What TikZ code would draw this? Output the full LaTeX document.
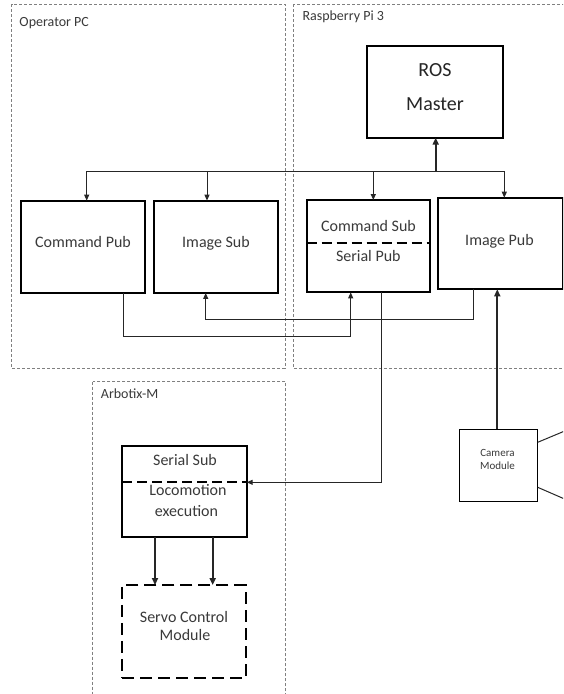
\documentclass[tikz,border=0pt]{standalone}
\usepackage{fontspec}
\setmainfont{Carlito}
\usetikzlibrary{arrows.meta}
\definecolor{txtgray}{HTML}{3A3A3A}
\definecolor{framegray}{HTML}{808080}
\tikzset{
  box/.style={draw=black, line width=2pt, rectangle, inner sep=0pt, outer sep=0pt},
  dbox/.style={box, dash pattern=on 12pt off 6pt},
  camerabox/.style={draw=black, line width=1pt, rectangle, inner sep=0pt, outer sep=0pt},
  group/.style={draw=framegray, line width=1pt, dash pattern=on 3pt off 2pt},
  grouplabel/.style={anchor=base west, text=txtgray, font=\fontsize{14}{16}\selectfont, inner sep=0pt},
  txt/.style={anchor=base, text=txtgray, font=\fontsize{16}{19}\selectfont, inner sep=0pt},
  bigtxt/.style={anchor=base, text=black!85, font=\fontsize{20}{24}\selectfont, inner sep=0pt},
  smalltxt/.style={anchor=base, text=txtgray, font=\fontsize{11}{13}\selectfont, inner sep=0pt},
  conn/.style={draw=black!85, line width=1pt, -{Triangle[length=6pt,width=5pt]}},
  thickconn/.style={draw=black!85, line width=2pt, -{Triangle[length=7pt,width=6pt]}},
  plainline/.style={draw=black!85, line width=1pt},
  divider/.style={draw=black, line width=2pt, dash pattern=on 10pt off 5pt},
}
\begin{document}
\begin{tikzpicture}[x=1pt,y=-1pt]
\clip (0,0) rectangle (563,694);
\fill[white] (0,0) rectangle (563,694);

% groups
\draw[group] (11.7,4) rectangle (285,368.3);
\draw[group] (293.7,4) rectangle (575,368.3);
\draw[group] (92.7,381.7) rectangle (285.7,710);
\node[grouplabel] (lblpc) at (19.3,26.7) {Operator PC};
\node[grouplabel] (lblpi) at (302.3,20) {Raspberry Pi 3};
\node[grouplabel] (lblarb) at (100.7,398.3) {Arbotix-M};

% boxes
\node[box, minimum width=136.6pt, minimum height=92pt] (ros) at (435,91.7) {};
\node[bigtxt] (rosT1) at (435,76) {ROS};
\node[bigtxt] (rosT2) at (435,110) {Master};

\node[box, minimum width=124pt, minimum height=92.3pt] (cmdpub) at (83,246.8) {};
\node[txt] (cmdpubT) at (83,247.3) {Command Pub};

\node[box, minimum width=124pt, minimum height=92.3pt] (imgsub) at (216,246.8) {};
\node[txt] (imgsubT) at (216,247.3) {Image Sub};

\node[box, minimum width=123.3pt, minimum height=92.3pt] (cmdsub) at (368.3,246.2) {};
\node[txt] (cmdsubT) at (368.5,231.7) {Command Sub};
\node[txt] (serpubT) at (368.3,261) {Serial Pub};
\draw[divider] ([yshift=2.9pt]cmdsub.west) -- ([yshift=2.9pt]cmdsub.east);

\node[box, minimum width=125pt, minimum height=91.6pt] (imgpub) at (500.2,243.5) {};
\node[txt] (imgpubT) at (499.5,245) {Image Pub};

\node[box, minimum width=124.4pt, minimum height=91pt] (sersub) at (184.5,491.2) {};
\node[txt] (sersubT) at (185,465) {Serial Sub};
\node[txt] (locoT1) at (188,495) {Locomotion};
\node[txt] (locoT2) at (186.5,516.7) {execution};
\draw[divider] ([yshift=8.9pt]sersub.west) -- ([yshift=8.9pt]sersub.east);

\node[dbox, minimum width=123.4pt, minimum height=93.3pt] (servo) at (184,631.7) {};
\node[txt] (servoT1) at (184,622.7) {Servo Control};
\node[txt] (servoT2) at (185,640.7) {Module};

\node[camerabox, minimum width=78.4pt, minimum height=71.7pt] (camera) at (498.5,465.2) {};
\node[smalltxt] (camT1) at (497.5,456) {Camera};
\node[smalltxt] (camT2) at (497.5,469.3) {Module};

% bus from ROS master
\coordinate (bus) at (435.7,171);
\draw[plainline] ([xshift=3.7pt]cmdpub.north |- bus) -- ([xshift=4.1pt]imgpub.north |- bus);
\draw[thickconn] (bus) -- (bus |- ros.south);
\draw[conn] ([xshift=3.7pt]cmdpub.north |- bus) -- ([xshift=3.7pt]cmdpub.north);
\draw[conn] ([xshift=-9pt]imgsub.north |- bus) -- ([xshift=-9pt]imgsub.north);
\draw[conn] ([xshift=5pt]cmdsub.north |- bus) -- ([xshift=5pt]cmdsub.north);
\draw[conn] ([xshift=4.1pt]imgpub.north |- bus) -- ([xshift=4.1pt]imgpub.north);

% operator <-> pi links
\draw[conn] ([xshift=40.3pt]cmdpub.south) -- ++(0,43.7) -| ([xshift=-17.6pt]cmdsub.south);
\draw[conn] ([xshift=-26.9pt]imgpub.south) -- ++(0,30) -| ([xshift=-10.3pt]imgsub.south);

% pi -> arbotix
\draw[conn] ([xshift=12.7pt]cmdsub.south) |- ([yshift=8.9pt]sersub.east);

% locomotion -> servo
\draw[thickconn] ([xshift=-29.5pt]sersub.south) -- ([xshift=-29.5pt]sersub.south |- servo.north);
\draw[thickconn] ([xshift=28.2pt]sersub.south) -- ([xshift=28.2pt]sersub.south |- servo.north);

% camera -> image pub
\draw[thickconn] ([xshift=-1.2pt]camera.north) -- ([xshift=-1.2pt]camera.north |- imgpub.south);

% camera lens lines
\coordinate (lensA) at (575,426.7);
\coordinate (lensB) at (575,503.5);
\draw[plainline] ([yshift=22.9pt]camera.east) -- (lensA);
\draw[plainline] ([yshift=-22.1pt]camera.east) -- (lensB);
\end{tikzpicture}
\end{document}
